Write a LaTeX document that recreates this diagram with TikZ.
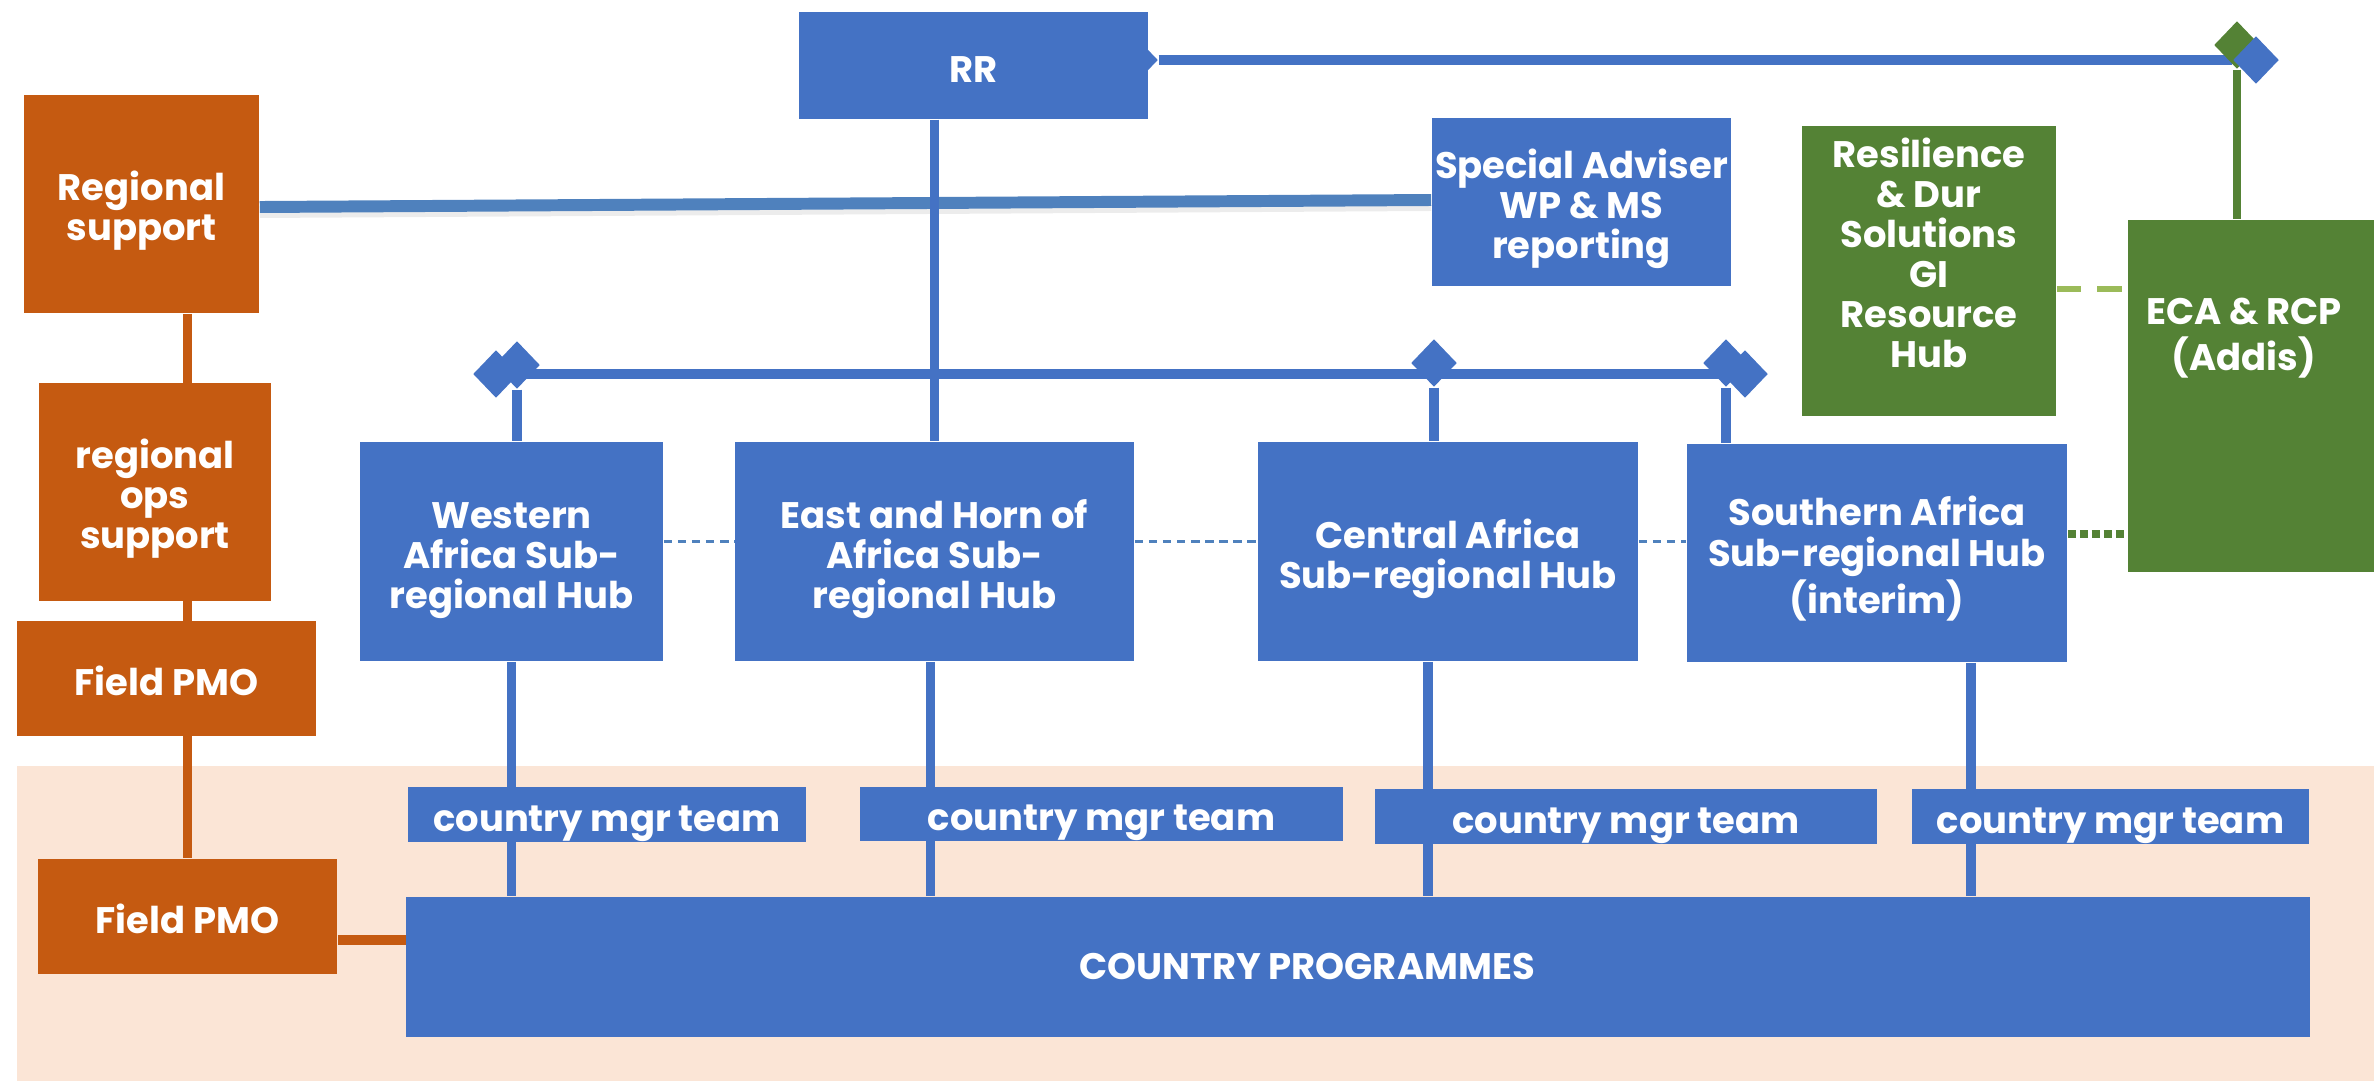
\documentclass[tikz,border=0pt]{standalone}
\usepackage{fontspec}
\setmainfont{Poppins}
\usetikzlibrary{shapes.geometric}

\definecolor{hubblue}{HTML}{4472C4}
\definecolor{steel}{HTML}{4F81BD}
\definecolor{rust}{HTML}{C55A11}
\definecolor{leaf}{HTML}{548235}
\definecolor{lightleaf}{HTML}{9BBB59}
\definecolor{peach}{HTML}{FBE5D6}

% first line height as in the slide boxes
\newcommand\fstrut{\rule{0pt}{12.5pt}}

\pgfdeclarelayer{back}
\pgfdeclarelayer{lines}
\pgfsetlayers{back,lines,main}

\begin{document}
\begin{tikzpicture}
  [x=0.01cm, y=-0.01cm,
   box/.style={fill=hubblue,
               text=white,
               font=\bfseries\fontsize{10.5}{11.4}\selectfont,
               align=center,
               inner sep=0pt,
               execute at begin node={\fstrut},
               execute at end node={\rule[-3pt]{0pt}{3pt}}},
   obox/.style={box, fill=rust},
   gbox/.style={box, fill=leaf},
   txt/.style={text=white,
               font=\bfseries\fontsize{10.5}{11.4}\selectfont,
               align=center,
               inner sep=0pt},
   dmd/.style={diamond, fill=hubblue, inner sep=0pt,
               minimum width=0.46cm, minimum height=0.48cm},
   bline/.style={draw=hubblue, line width=2.6pt},
   oline/.style={draw=rust, line width=2.6pt},
   hdash/.style={draw=steel, line width=0.8pt, dash pattern=on 2.4pt off 1.6pt}]

  \useasboundingbox (0,0) rectangle (2374,1081);

  % field area
  \begin{pgfonlayer}{back}
    \fill[peach] (17,766) rectangle (2374,1081);
  \end{pgfonlayer}

  % top level
  \node[dmd] (dR0) at (1135,60) {};
  \node[box, minimum width=3.49cm, minimum height=1.07cm] (rr) at (973.5,65.5) {RR};
  \node[dmd, fill=leaf] (dG) at (2237,45) {};
  \node[dmd] (dR) at (2256,60) {};

  \node[obox, minimum width=2.35cm, minimum height=2.18cm] (regsup) at (141.5,204) {\fstrut Regional\\support};
  \node[obox, minimum width=2.32cm, minimum height=2.18cm] (regops) at (155,492) {\fstrut regional\\ops\\support};
  \node[obox, minimum width=2.99cm, minimum height=1.15cm] (pmoA) at (166.5,678.5) {Field PMO};
  \node[obox, minimum width=2.99cm, minimum height=1.15cm] (pmoB) at (187.5,916.5) {Field PMO};

  \node[box, minimum width=2.99cm, minimum height=1.67cm] (spadv) at (1581.5,202) {\fstrut Special Adviser\\WP \& MS\\reporting};
  \node[gbox, minimum width=2.54cm, minimum height=2.90cm] (resil) at (1929,271) {};
  \node[txt] (resiltxt) at (1929,253) {Resilience\\\& Dur\\Solutions\\GI\\Resource\\Hub};
  \node[gbox, minimum width=2.46cm, minimum height=3.52cm] (eca) at (2251,396) {};
  \node[txt, font=\bfseries\fontsize{10.5}{13}\selectfont] (ecatxt) at (2244,338) {ECA \& RCP\\(Addis)};

  % hub bar
  \node[dmd] (dW1) at (496,374) {};
  \node[dmd] (dW2) at (517,365) {};
  \node[dmd] (dC) at (1434,363) {};
  \node[dmd] (dS1) at (1726,363) {};
  \node[dmd] (dS2) at (1745,374) {};

  % sub-regional hubs
  \node[box, minimum width=3.03cm, minimum height=2.19cm] (west) at (511.5,551.5) {\fstrut Western\\Africa Sub-\\regional Hub};
  \node[box, minimum width=3.99cm, minimum height=2.19cm] (east) at (934.5,551.5) {\fstrut East and Horn of\\Africa Sub-\\regional Hub};
  \node[box, minimum width=3.80cm, minimum height=2.19cm] (central) at (1448,551.5) {\fstrut Central Africa\\Sub-regional Hub};
  \node[box, minimum width=3.80cm, minimum height=2.18cm] (south) at (1877,553) {\fstrut Southern Africa\\Sub-regional Hub\\(interim)};

  % country level
  \node[box, minimum width=3.98cm, minimum height=0.53cm] (mgrA) at (607,814.5) {country mgr team};
  \node[box, minimum width=4.83cm, minimum height=0.52cm] (mgrB) at (1101.5,814) {country mgr team};
  \node[box, minimum width=5.02cm, minimum height=0.53cm] (mgrC) at (1626,816.5) {country mgr team};
  \node[box, minimum width=3.97cm, minimum height=0.53cm] (mgrD) at (2110.5,816.5) {country mgr team};
  \node[box, minimum width=19.02cm, minimum height=1.40cm] (cp) at (1358,967) {};
  \node[txt] (cptxt) at (1307,966) {COUNTRY PROGRAMMES};

  \begin{pgfonlayer}{lines}
    % reporting lines
    \draw[bline] (dR0) -- (dR);
    \draw[draw=leaf, line width=2.3pt] (dG) -- (dG |- eca.north);
    \draw[draw=gray!15, line width=3.4pt] ([yshift=-0.08cm]regsup.east) -- ([yshift=-0.03cm]spadv.west);
    \draw[draw=steel, line width=3.4pt] ([yshift=-0.03cm]regsup.east) -- ([yshift=0.02cm]spadv.west);
    \draw[bline] (east.north |- rr.south) -- (east.north);
    \draw[bline] (dW1) -- (dS2);
    \draw[bline] (dW2) -- (dW2 |- west.north);
    \draw[bline] (dC) -- (dC |- central.north);
    \draw[bline] (dS1) -- (dS1 |- south.north);
    % hubs to countries
    \draw[bline] (west.south) -- (west.south |- cp.north);
    \draw[bline] ([xshift=-0.04cm]east.south) -- ([xshift=-0.04cm]east.south |- cp.north);
    \draw[bline] ([xshift=-0.2cm]central.south) -- ([xshift=-0.2cm]central.south |- cp.north);
    \draw[bline] ([xshift=0.94cm]south.south) -- ([xshift=0.94cm]south.south |- cp.north);
    % field support
    \draw[oline] (pmoB.north |- regsup.south) -- (pmoB.north);
    \draw[oline] ([yshift=-0.235cm]pmoB.east) -- ([yshift=-0.235cm]pmoB.east -| cp.west);
    % peer links
    \draw[hdash] ([yshift=0.1cm]west.east) -- ([yshift=0.1cm]east.west);
    \draw[hdash] ([yshift=0.1cm]east.east) -- ([yshift=0.1cm]central.west);
    \draw[hdash] ([yshift=0.1cm]central.east) -- ([yshift=0.1cm]central.east -| south.west);
    \draw[draw=lightleaf, line width=1.7pt, dash pattern=on 7pt off 4.5pt] ([yshift=-0.18cm]resil.east) -- ([yshift=-0.18cm]resil.east -| eca.west);
    \draw[draw=leaf, line width=2.3pt, dash pattern=on 2.3pt off 1.1pt] ([yshift=0.19cm]south.east) -- ([yshift=0.19cm]south.east -| eca.west);
  \end{pgfonlayer}
\end{tikzpicture}
\end{document}
